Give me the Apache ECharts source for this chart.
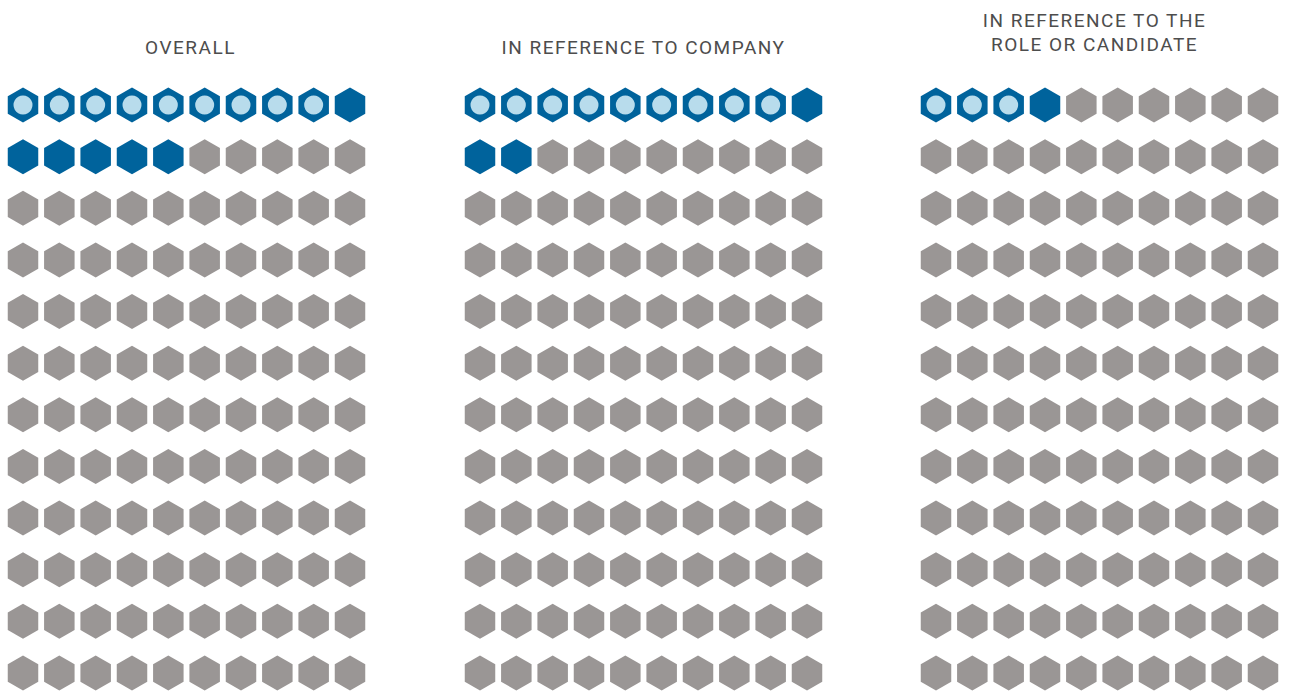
<!DOCTYPE html>
<html>
<head>
<meta charset="utf-8">
<script src="https://cdn.jsdelivr.net/npm/echarts@6/dist/echarts.min.js"></script>
<style>
  html, body { margin: 0; padding: 0; background: #fff; }
  #chart { width: 1290px; height: 693px; }
  #chart text { letter-spacing: 1.5px; }
</style>
</head>
<body>
<div id="chart"></div>
<script>
// data
var panelTitles = ['OVERALL', 'IN REFERENCE TO COMPANY', 'IN REFERENCE TO THE\nROLE OR CANDIDATE'];
var ringedCounts = [9, 9, 3];   // blue hexagons with light centre
var solidCounts = [6, 3, 1];    // plain blue hexagons
var cols = 10;
var rows = 12;

var hexPath = 'path://M0,-1 L0.866,-0.5 L0.866,0.5 L0,1 L-0.866,0.5 L-0.866,-0.5 Z';
var BLUE = '#00639c';
var LIGHT = '#b8dcec';
var GREY = '#9a9695';

var gridLefts = [23, 480, 936];
var gridWidth = 327;
var titleShift = [-1, -5, -10];

var grids = [], xAxes = [], yAxes = [], titles = [], series = [];

panelTitles.forEach(function (name, p) {
  grids.push({ left: gridLefts[p], width: gridWidth, top: 105, height: 568 });
  xAxes.push({ gridIndex: p, type: 'value', min: 0, max: cols - 1, show: false });
  yAxes.push({ gridIndex: p, type: 'value', min: 0, max: rows - 1, inverse: true, show: false });

  var twoLines = name.indexOf('\n') >= 0;
  titles.push({
    text: name,
    left: gridLefts[p] + gridWidth / 2 + titleShift[p],
    top: twoLines ? 3 : 30,
    textAlign: 'center',
    textStyle: { fontFamily: 'Roboto', fontSize: 19, fontWeight: 'normal', color: '#4d4d4d', lineHeight: 24 }
  });

  var filled = ringedCounts[p] + solidCounts[p];
  var blue = [], grey = [], ring = [];
  for (var i = 0; i < cols * rows; i++) {
    var pt = [i % cols, Math.floor(i / cols)];
    if (i < filled) blue.push(pt); else grey.push(pt);
    if (i < ringedCounts[p]) ring.push(pt);
  }
  var base = { type: 'scatter', xAxisIndex: p, yAxisIndex: p, silent: true, animation: false };
  series.push(Object.assign({}, base, { data: grey, symbol: hexPath, symbolSize: [30.5, 35], itemStyle: { color: GREY, opacity: 1 } }));
  series.push(Object.assign({}, base, { data: blue, symbol: hexPath, symbolSize: [30.5, 35], itemStyle: { color: BLUE, opacity: 1 } }));
  series.push(Object.assign({}, base, { data: ring, symbol: 'circle', symbolSize: 19, itemStyle: { color: LIGHT, opacity: 1 } }));
});

var myChart = echarts.init(document.getElementById('chart'), null, { renderer: 'svg' });
myChart.setOption({
  backgroundColor: '#fff',
  title: titles,
  grid: grids,
  xAxis: xAxes,
  yAxis: yAxes,
  series: series
});
</script>
</body>
</html>
